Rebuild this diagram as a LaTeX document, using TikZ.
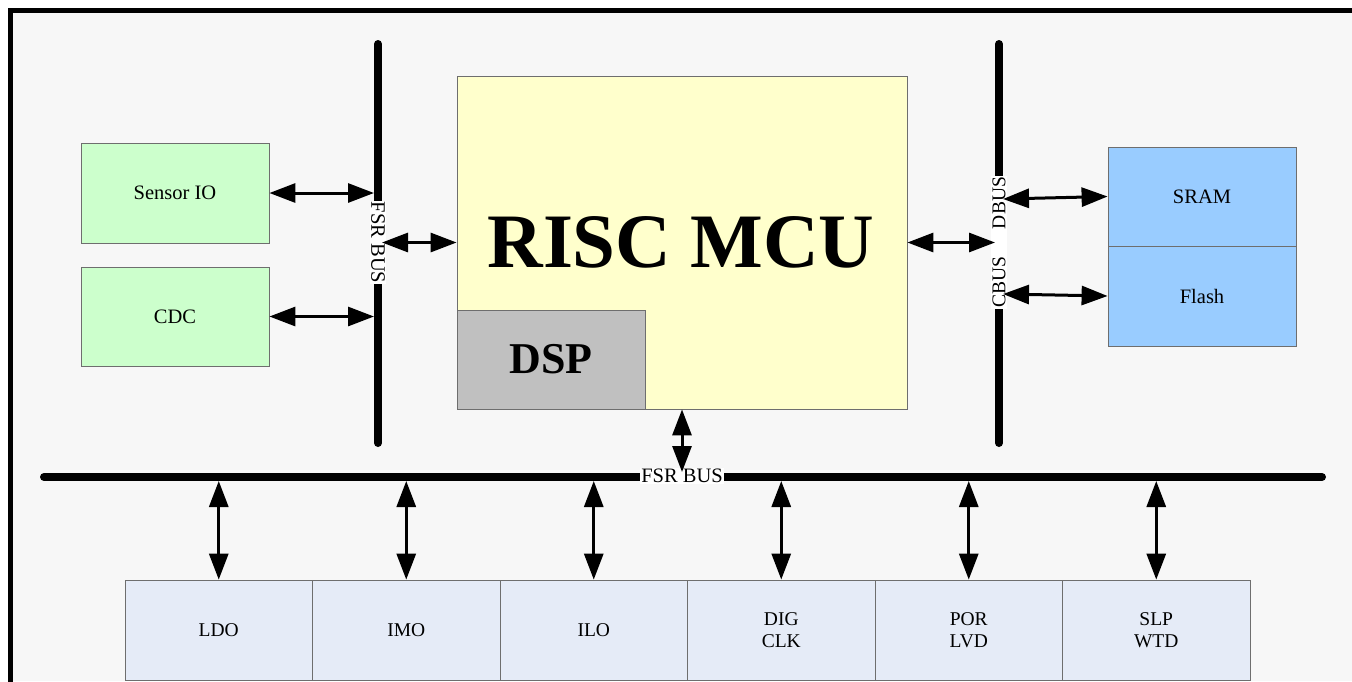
\documentclass[tikz,border=0pt]{standalone}
\usepackage{fontspec}
\setmainfont{Liberation Serif}
\usetikzlibrary{arrows.meta}
\definecolor{bg}{HTML}{F7F7F7}
\definecolor{greenbox}{HTML}{CCFFCC}
\definecolor{yellowbox}{HTML}{FFFFCC}
\definecolor{dspbox}{HTML}{C0C0C0}
\definecolor{bluebox}{HTML}{99CCFF}
\definecolor{lavbox}{HTML}{E5EBF7}
\definecolor{boxline}{HTML}{6E6E6E}
\begin{document}
\begin{tikzpicture}[x=1pt,y=-1pt,
  box/.style={draw=boxline, line width=0.8pt, inner sep=0pt, align=center,
    font=\fontsize{20.5}{24}\selectfont},
  smallbox/.style={box, minimum width=188pt, minimum height=100pt},
  lowbox/.style={box, fill=lavbox, minimum width=187.5pt, minimum height=100pt,
    font=\fontsize{19.5}{22}\selectfont},
  bus/.style={line width=8pt, line cap=round},
  link/.style={line width=3pt,
    {Triangle[length=26pt,width=19pt]}-{Triangle[length=26pt,width=19pt]}},
  buslabel/.style={fill=white, inner sep=1.5pt, font=\fontsize{20.5}{24}\selectfont}]
\useasboundingbox (0,0) rectangle (1352,681);
\fill[white] (0,0) rectangle (1352,681);
\fill[bg] (10,10) rectangle (1352,681);
\draw[line width=5pt] (10,700) -- (10,10) -- (1370,10);

% left column boxes
\node[smallbox, fill=greenbox] (sio) at (175,193) {Sensor IO};
\node[smallbox, fill=greenbox, minimum height=99pt] (cdc) at (175,316.5) {CDC};

% MCU
\node[box, fill=yellowbox, minimum width=450pt, minimum height=333pt] (mcu) at (682,242.5) {};
\node[box, fill=dspbox, minimum width=188pt, minimum height=99pt,
  font=\fontsize{44}{48}\selectfont\bfseries] (dsp) at (551,359.5) {DSP};
\node[font=\fontsize{77}{80}\selectfont\bfseries, inner sep=0pt] (risc) at (681,242) {RISC MCU};

% memory
\node[smallbox, fill=bluebox, minimum height=99pt] (sram) at (1202,196.5) {SRAM};
\node[smallbox, fill=bluebox] (flash) at (1202,296) {Flash};

% bottom peripherals
\node[lowbox] (ldo) at (218.75,630) {LDO};
\node[lowbox] (imo) at (406.25,630) {IMO};
\node[lowbox] (ilo) at (593.75,630) {ILO};
\node[lowbox] (dig) at (781.25,630) {DIG\\CLK};
\node[lowbox] (por) at (968.75,630) {POR\\LVD};
\node[lowbox] (slp) at (1156.25,630) {SLP\\WTD};

% buses
\coordinate (lbtop) at (378,44);
\coordinate (lbbot) at (378,443);
\coordinate (rbtop) at (999,44);
\coordinate (rbbot) at (999,443);
\coordinate (bbl) at (44,477);
\coordinate (bbr) at (1322,477);
\draw[bus] (lbtop) -- (lbbot);
\draw[bus] (rbtop) -- (rbbot);
\draw[bus] (bbl) -- (bbr);
\node[buslabel, rotate=-90, inner sep=1pt] (lbl) at (378,242.5) {FSR BUS};
\node[buslabel, rotate=90, inner sep=1pt, font=\fontsize{19.5}{22}\selectfont] (rbl) at (999,242.5) {CBUS\hspace{28pt}DBUS};
\node[buslabel, inner sep=1pt] (bbl-label) at (682,476) {FSR BUS};

% connection points on buses
\coordinate (lbL) at (374,0);
\coordinate (lbR) at (382,0);
\coordinate (rbL) at (995,0);
\coordinate (rbR) at (1003,0);
\coordinate (bbT) at (0,472);
\coordinate (bbB) at (0,481);

% connectors
\draw[link] (sio.east) -- (sio.east -| lbL);
\draw[link] (cdc.east) -- (cdc.east -| lbL);
\draw[link] (mcu.west -| lbR) -- (mcu.west);
\draw[link] (mcu.east) -- (mcu.east -| rbL);
\coordinate (dbusp) at (1003,199);
\coordinate (cbusp) at (1003,294);
\draw[link] (dbusp) -- (sram.west);
\draw[link] (cbusp) -- (flash.west);
\draw[link] (mcu.south) -- (mcu.south |- bbT);
\foreach \n in {ldo,imo,ilo,dig,por,slp}{
  \draw[link] (\n.north |- bbB) -- (\n.north);
}
\end{tikzpicture}
\end{document}
